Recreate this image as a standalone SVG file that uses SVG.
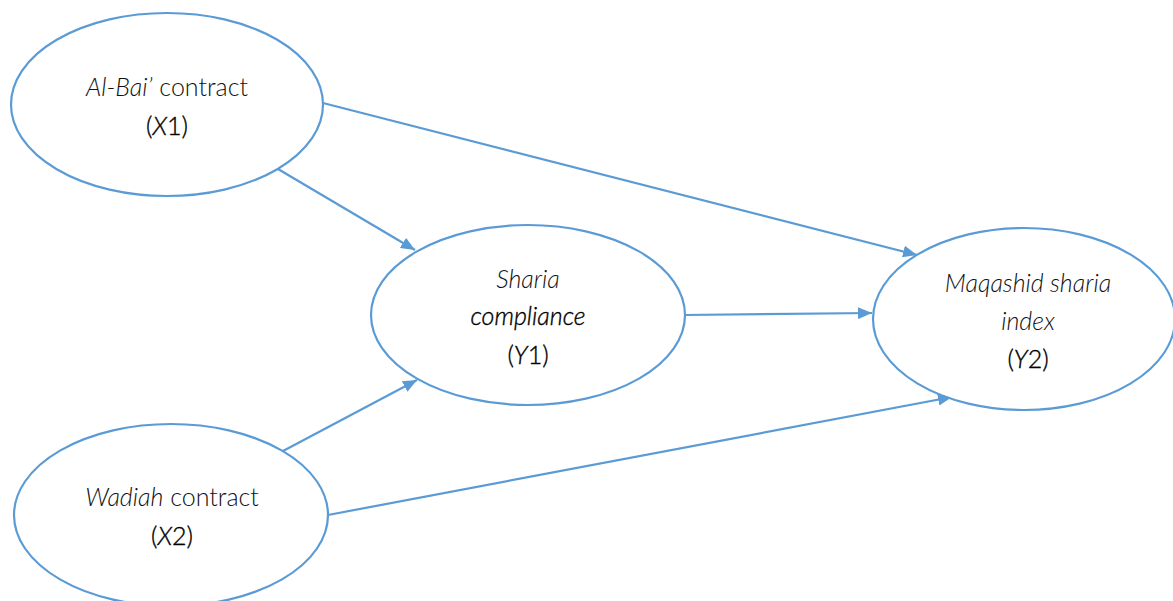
<svg xmlns="http://www.w3.org/2000/svg" width="1173" height="601" viewBox="0 0 1173 601">
<defs>
<style>
.node{fill:#fff;stroke:#5B9BD5;stroke-width:2.2}
.edge{stroke:#5B9BD5;stroke-width:2.2;fill:none}
text{font-family:Lato,"Open Sans","Liberation Sans",sans-serif;font-size:25px;fill:#111;text-anchor:middle;font-weight:300}
.i{font-style:italic}
.r{fill:#000;stroke:#000;stroke-width:0.35}
</style>
<marker id="ah" viewBox="0 0 14 12" refX="14" refY="6" markerWidth="14" markerHeight="12" markerUnits="userSpaceOnUse" orient="auto">
<path d="M0,0 L14,6 L0,12 Z" fill="#5B9BD5"/>
</marker>
</defs>
<rect width="1173" height="601" fill="#fff"/>
<g id="connectors">
<line class="edge" x1="323" y1="103" x2="917" y2="255" marker-end="url(#ah)"/>
<line class="edge" x1="278" y1="169" x2="415" y2="250" marker-end="url(#ah)"/>
<line class="edge" x1="684" y1="315" x2="872" y2="313" marker-end="url(#ah)"/>
<line class="edge" x1="283" y1="451" x2="417" y2="380" marker-end="url(#ah)"/>
<line class="edge" x1="328" y1="515" x2="952" y2="397" marker-end="url(#ah)"/>
</g>
<g id="X1">
<ellipse class="node" cx="167" cy="104.5" rx="156" ry="91.5"/>
<text x="167" y="96"><tspan class="i">Al-Bai’</tspan> contract</text>
<text x="167" y="135" class="r">(<tspan class="i">X</tspan>1)</text>
</g>
<g id="Y1">
<ellipse class="node" cx="528" cy="315" rx="157" ry="90"/>
<text x="528" y="288" class="i">Sharia</text>
<text x="528" y="325" class="i r">compliance</text>
<text x="528" y="364" class="r">(<tspan class="i">Y</tspan>1)</text>
</g>
<g id="Y2">
<ellipse class="node" cx="1024" cy="319" rx="151" ry="91"/>
<text x="1028" y="292" class="i">Maqashid sharia</text>
<text x="1028" y="330" class="i">index</text>
<text x="1028" y="368" class="r">(<tspan class="i">Y</tspan>2)</text>
</g>
<g id="X2">
<ellipse class="node" cx="171" cy="515" rx="157" ry="91"/>
<text x="172" y="506"><tspan class="i">Wadiah</tspan> contract</text>
<text x="172" y="545" class="r">(<tspan class="i">X</tspan>2)</text>
</g>
</svg>
